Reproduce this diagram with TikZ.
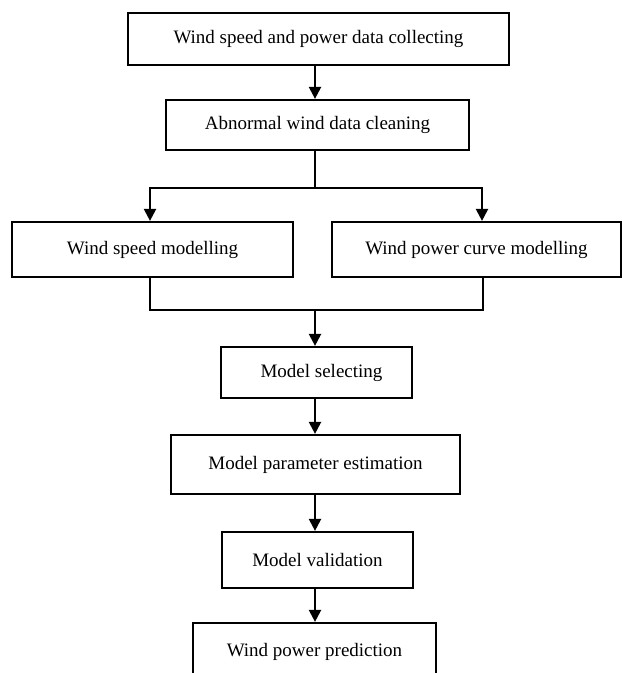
\documentclass[tikz,border=0pt]{standalone}
\usepackage{fontspec}
\setmainfont{Liberation Serif}
\usetikzlibrary{arrows.meta}
\begin{document}
\begin{tikzpicture}[x=1pt,y=-1pt,
  box/.style={draw, line width=2.2pt, rectangle, inner sep=0pt, font=\fontsize{19}{22}\selectfont},
  ln/.style={line width=2.2pt},
  arr/.style={line width=2.2pt, -{Triangle[length=12pt,width=12pt]}}]
\useasboundingbox (0,0) rectangle (622,673);
\clip (0,0) rectangle (622,673);
\node[box, minimum width=381pt, minimum height=52pt] (b1) at (318.5,39) {Wind speed and power data collecting};
\node[box, minimum width=303pt, minimum height=50pt] (b2) at (317.5,125) {Abnormal wind data cleaning};
\node[box, minimum width=281pt, minimum height=55pt] (b3) at (152.5,249.5) {Wind speed modelling};
\node[box, minimum width=289pt, minimum height=55pt] (b4) at (476.5,249.5) {Wind power curve modelling};
\node[box, minimum width=191pt, minimum height=51pt] (b5) at (316.5,372.5) {\hspace*{10pt}Model selecting};
\node[box, minimum width=289pt, minimum height=59pt] (b6) at (315.5,464.5) {Model parameter estimation};
\node[box, minimum width=191pt, minimum height=56pt] (b7) at (317.5,560) {Model validation};
\node[box, minimum width=243pt, minimum height=58pt] (b8) at (314.5,652) {Wind power prediction};
\coordinate (cx) at (315,0);
\coordinate (bl) at (150,188);
\coordinate (brr) at (482,188);
\coordinate (ml) at (150,310);
\coordinate (mr) at (483,310);
\draw[arr] (b1.south -| cx) -- (b2.north -| cx);
\draw[ln] (b2.south -| cx) -- (cx |- bl);
\draw[arr] (cx |- bl) -- (bl) -- (b3.north -| bl);
\draw[arr] (cx |- bl) -- (brr) -- (b4.north -| brr);
\draw[ln] (b3.south -| ml) -- (ml) -- (mr) -- (b4.south -| mr);
\draw[arr] (cx |- ml) -- (b5.north -| cx);
\draw[arr] (b5.south -| cx) -- (b6.north -| cx);
\draw[arr] (b6.south -| cx) -- (b7.north -| cx);
\draw[arr] (b7.south -| cx) -- (b8.north -| cx);
\end{tikzpicture}
\end{document}
